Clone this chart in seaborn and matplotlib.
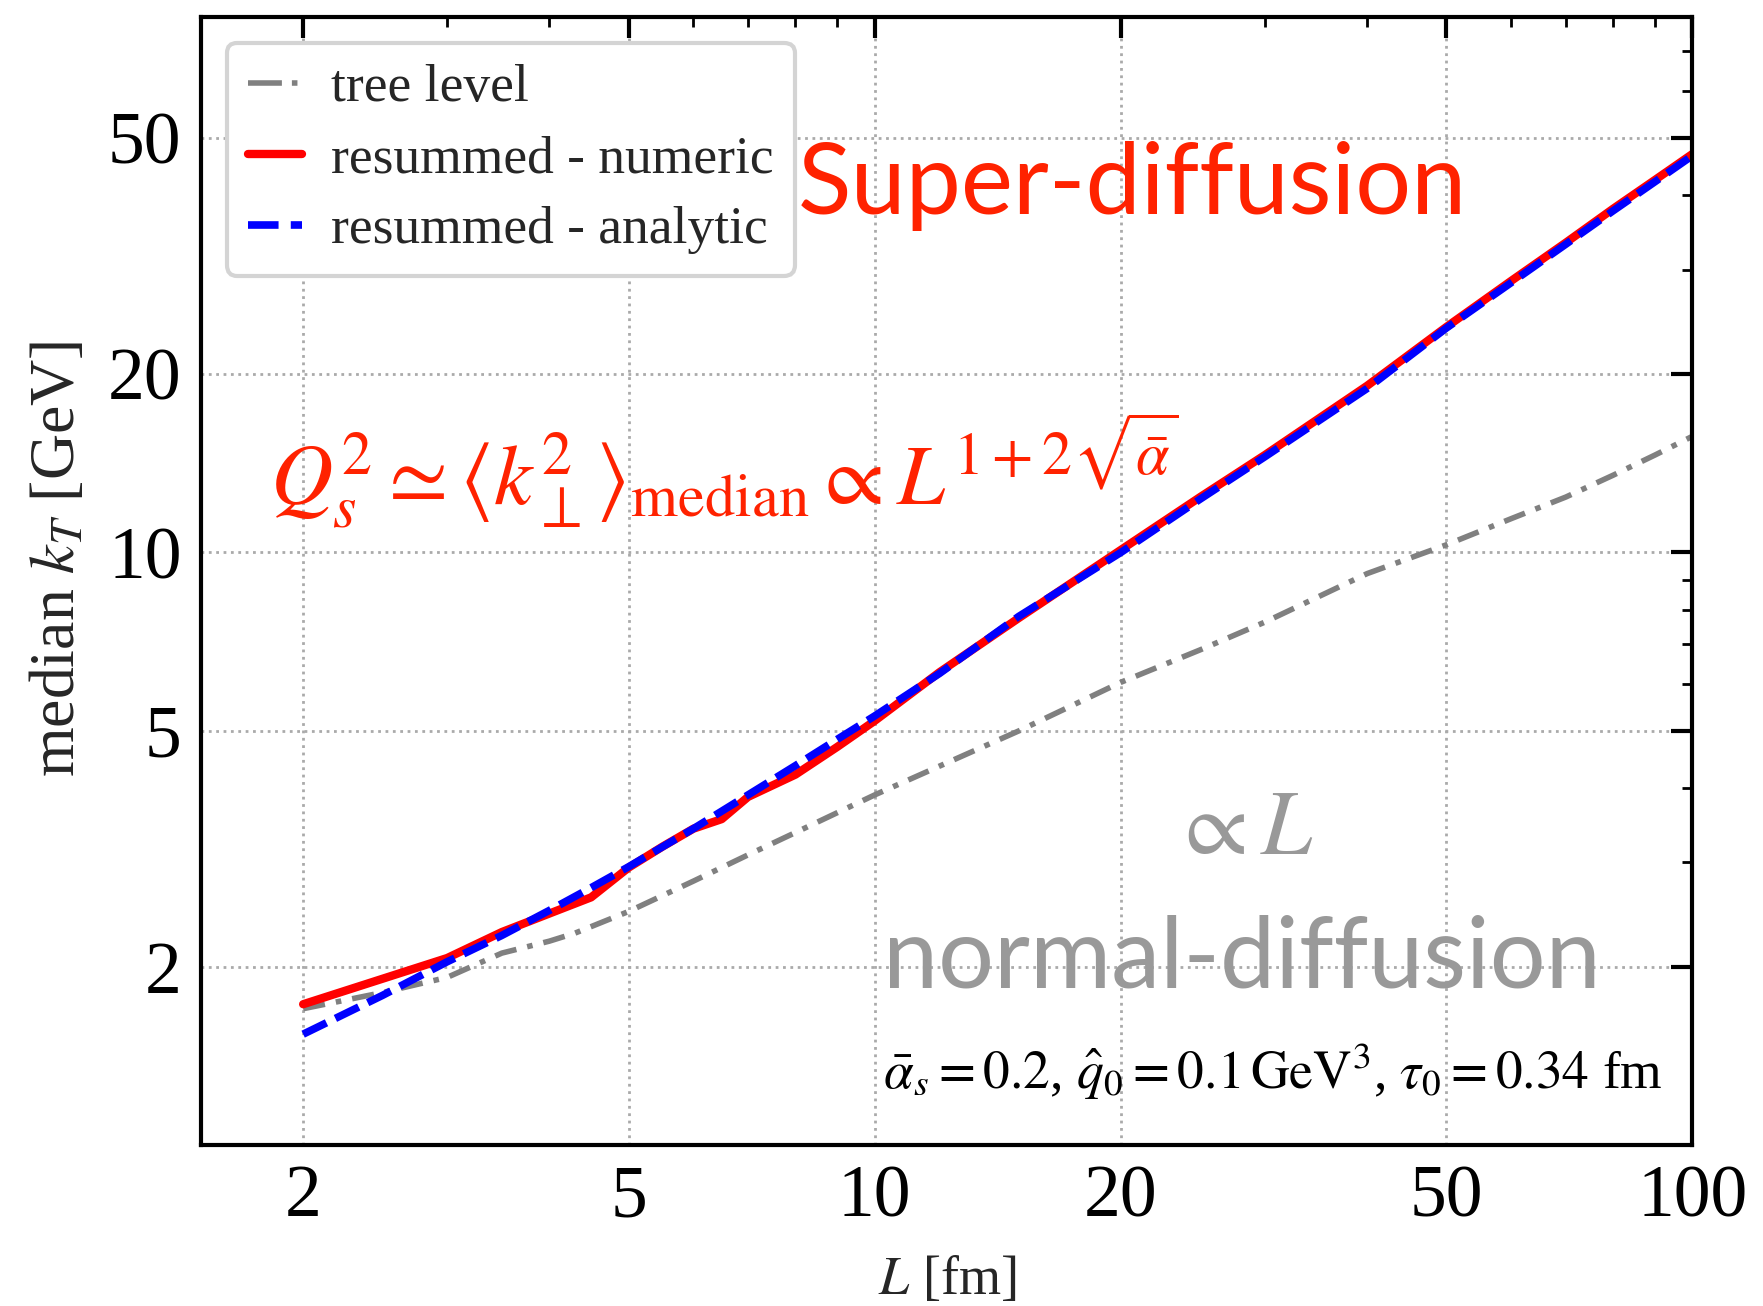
import numpy as np
import pandas as pd
import matplotlib
matplotlib.use("Agg")
import matplotlib.pyplot as plt
from matplotlib.ticker import FixedLocator, NullFormatter, LogLocator
import seaborn as sns

# ---- data ----
L_tree = [2, 2.5, 3, 3.5, 4, 4.3, 5, 6, 7, 8, 10, 15, 20, 25, 30, 40, 50, 60, 70, 80, 90, 100]
kt_tree = [1.70, 1.81, 1.92, 2.11, 2.21, 2.28, 2.48, 2.79, 3.09, 3.37, 3.90, 5.0, 6.04, 6.85,
           7.63, 9.21, 10.3, 11.4, 12.4, 13.5, 14.6, 15.7]

L_num = [2, 3, 3.5, 4, 4.5, 5, 5.5, 6, 6.5, 7, 8, 9, 10, 12, 15, 20, 25, 30, 40, 50,
         60, 70, 80, 90, 100]
kt_num = [1.73, 2.07, 2.29, 2.46, 2.62, 2.94, 3.19, 3.42, 3.55, 3.87, 4.22, 4.70, 5.20,
          6.28, 7.75, 10.1, 12.4, 14.6, 19.1, 24.0, 28.7, 33.3, 38.0, 42.5, 47.0]

L_ana = [2, 2.5, 3, 3.5, 4, 4.5, 5, 6, 7, 8, 9, 10, 12, 15, 20, 25, 30, 40, 50, 60, 70,
         80, 90, 100]
kt_ana = [1.54, 1.79, 2.04, 2.26, 2.49, 2.72, 2.95, 3.42, 3.90, 4.37, 4.84, 5.30, 6.25,
          7.80, 10.0, 12.3, 14.5, 18.9, 23.9, 28.5, 33.1, 37.7, 42.2, 46.7]

labels = ["tree level", "resummed - numeric", "resummed - analytic"]
xticks = [2, 5, 10, 20, 50, 100]
yticks = [2, 5, 10, 20, 50]

df_tree = pd.DataFrame({"L": L_tree, "kt": kt_tree})
df_num = pd.DataFrame({"L": L_num, "kt": kt_num})
df_ana = pd.DataFrame({"L": L_ana, "kt": kt_ana})

sns.set_theme(style="white")
plt.rcParams["font.family"] = ["Liberation Serif", "DejaVu Serif"]
plt.rcParams["mathtext.fontset"] = "stix"

fig = plt.figure(figsize=(17.63, 13.06), dpi=100)
ax = fig.add_axes([0.114, 0.123, 0.846, 0.864])

sns.lineplot(data=df_tree, x="L", y="kt", ax=ax, color="#808080", lw=4,
             linestyle=(0, (4.0, 2.0, 1, 2.0)), label=labels[0], estimator=None)
sns.lineplot(data=df_num, x="L", y="kt", ax=ax, color="#ff0000", lw=6,
             linestyle="-", label=labels[1], estimator=None)
sns.lineplot(data=df_ana, x="L", y="kt", ax=ax, color="#0000ff", lw=5.5,
             linestyle=(0, (3.4, 1.3)), label=labels[2], estimator=None)

ax.set_xscale("log")
ax.set_yscale("log")
ax.set_xlim(1.5, 100)
ax.set_ylim(1.0, 80)

ax.xaxis.set_major_locator(FixedLocator(xticks))
ax.set_xticklabels([str(t) for t in xticks])
ax.yaxis.set_major_locator(FixedLocator(yticks))
ax.set_yticklabels([str(t) for t in yticks])
ax.xaxis.set_minor_locator(LogLocator(base=10, subs=np.arange(1, 10)))
ax.yaxis.set_minor_locator(LogLocator(base=10, subs=np.arange(1, 10)))
ax.xaxis.set_minor_formatter(NullFormatter())
ax.yaxis.set_minor_formatter(NullFormatter())

ax.tick_params(which="both", direction="in", top=True, right=True, colors="black")
ax.tick_params(which="major", length=15, width=3, labelsize=53, pad=14)
ax.tick_params(which="minor", length=7.5, width=2)
for s in ax.spines.values():
    s.set_linewidth(3)
    s.set_color("black")

ax.grid(True, which="major", linestyle=":", color="#aaaaaa", lw=2)

ax.set_xlabel(r"$L$ [fm]", fontsize=39, labelpad=17)
ax.set_ylabel(r"median $k_T$ [GeV]", fontsize=46)
ax.yaxis.set_label_coords(-0.076, 0.52)

leg = ax.legend(loc="upper left", fontsize=38.5, handlelength=1.0, handletextpad=0.55,
                labelspacing=0.42, borderpad=0.4, borderaxespad=0.48,
                frameon=True, fancybox=True, framealpha=1.0)
leg.get_frame().set_edgecolor("#d4d4d4")
leg.get_frame().set_linewidth(3)
leg_lines = leg.get_lines()
leg_lines[0].set_dashes([6.1, 1.8, 1, 1.8])
leg_lines[2].set_dashes([4.0, 1.6])

red_txt = "#ff2200"
gray_txt = "#999999"
ax.text(0.400, 0.825, "Super-diffusion", transform=ax.transAxes, color=red_txt,
        fontsize=71, family=["Lato", "DejaVu Sans"], va="baseline", ha="left")
ax.text(0.046, 0.568,
        r"$Q_s^2 \simeq \langle k_\perp^2\rangle_{\mathrm{median}} \propto L^{1+2\sqrt{\bar{\alpha}}}$",
        transform=ax.transAxes, color=red_txt, fontsize=62, va="baseline", ha="left")
ax.text(0.698, 0.258, r"$\propto L$", transform=ax.transAxes, color=gray_txt,
        fontsize=66, va="baseline", ha="center")
ax.text(0.698, 0.140, "normal-diffusion", transform=ax.transAxes, color=gray_txt,
        fontsize=71, family=["Lato", "DejaVu Sans"], va="baseline", ha="center")
ax.text(0.98, 0.05,
        r"$\bar{\alpha}_s = 0.2$, $\hat{q}_0 = 0.1\,\mathrm{GeV}^3$, $\tau_0 = 0.34$ fm",
        transform=ax.transAxes, color="black", fontsize=38.5, va="baseline", ha="right")

fig.savefig("out.png", dpi=100)
